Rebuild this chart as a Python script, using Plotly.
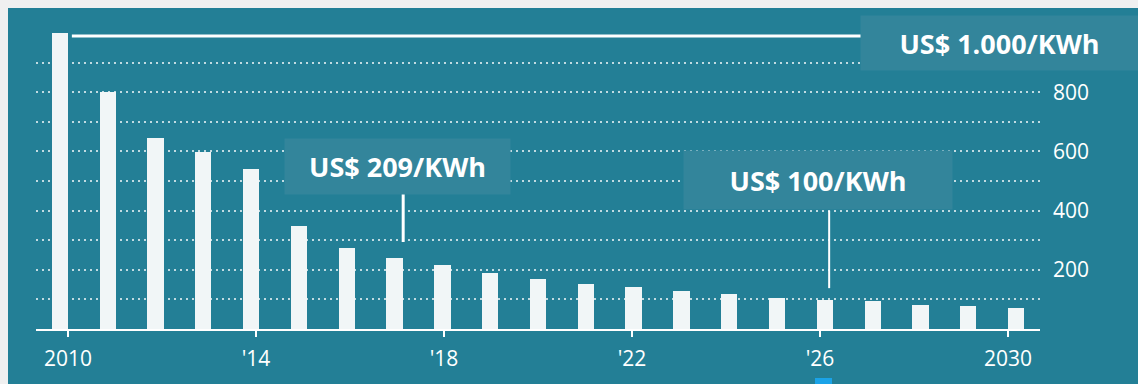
import plotly.graph_objects as go

# ---- data ----
years = list(range(2010, 2031))
prices = [1000, 800, 645, 598, 540, 348, 273, 240, 216, 189, 169, 152, 142, 128, 118, 106, 98, 95, 81, 78, 71]
x_tickvals = [2010, 2014, 2018, 2022, 2026, 2030]
x_ticktext = ["2010", "'14", "'18", "'22", "'26", "2030"]
y_tickvals = [100, 200, 300, 400, 500, 600, 700, 800, 900, 1000]
y_ticktext = ["", "200", "", "400", "", "600", "", "800", "", ""]
labels = ["US$ 1.000/KWh", "US$ 209/KWh", "US$ 100/KWh"]

TEAL = "#237f96"
BOX = "#33859b"
GRAY = "#f0f0f0"
BAR = "#f1f6f7"

W, H = 1138, 384
ML, MR, MT, MB = 36, 98, 33, 55
PW, PH = W - ML - MR, H - MT - MB

fig = go.Figure()
fig.add_trace(go.Bar(x=years, y=prices, width=0.34, marker=dict(color=BAR, line=dict(width=0)),
                     hoverinfo="x+y", showlegend=False))
# empty helper trace so the tick axis (x2) is drawn
fig.add_trace(go.Scatter(x=[None], y=[None], xaxis="x2", yaxis="y", showlegend=False, hoverinfo="skip"))

# pixel -> paper helpers for frame decoration
def px(xp):
    return (xp - ML) / PW

def py(yp):
    return (H - MB - yp) / PH

shapes = [
    # gray strips (top and left) of the cropped frame
    dict(type="rect", xref="paper", yref="paper", x0=px(0), x1=px(W), y0=py(8), y1=py(0),
         fillcolor=GRAY, line=dict(width=0), layer="below"),
    dict(type="rect", xref="paper", yref="paper", x0=px(0), x1=px(8), y0=py(H), y1=py(0),
         fillcolor=GRAY, line=dict(width=0), layer="below"),
    # small blue mark at bottom
    dict(type="rect", xref="paper", yref="paper", x0=px(815), x1=px(832), y0=py(H), y1=py(378),
         fillcolor="#1aa3e8", line=dict(width=0), layer="above"),
    # top reference line (1.000)
    dict(type="line", xref="x", yref="y", x0=2010.25, x1=2026.77, y0=990, y1=990,
         line=dict(color="white", width=3)),
    # pointer lines
    dict(type="line", xref="x", yref="y", x0=2017.18, x1=2017.18, y0=294, y1=500,
         line=dict(color="white", width=3)),
    dict(type="line", xref="x", yref="y", x0=2026.09, x1=2026.09, y0=138, y1=400,
         line=dict(color="white", width=2)),
]

ann_font = dict(family="Open Sans", size=27, color="white", weight="bold")
annotations = [
    dict(x=2029.66, y=966, xref="x", yref="y", text=labels[0], showarrow=False,
         width=277, height=54, bgcolor=BOX, borderpad=0, font=ann_font, xanchor="center", yanchor="middle"),
    dict(x=2017.06, y=550, xref="x", yref="y", text=labels[1], showarrow=False,
         width=225, height=55, bgcolor=BOX, borderpad=0, font=ann_font, xanchor="center", yanchor="middle"),
    dict(x=2025.86, y=505, xref="x", yref="y", text=labels[2], showarrow=False,
         width=268, height=58, bgcolor=BOX, borderpad=0, font=ann_font, xanchor="center", yanchor="middle"),
]

fig.update_layout(
    width=W, height=H,
    margin=dict(l=ML, r=MR, t=MT, b=MB, pad=0),
    paper_bgcolor=TEAL, plot_bgcolor="rgba(0,0,0,0)",
    shapes=shapes, annotations=annotations,
    bargap=0,
    font=dict(family="Open Sans", color="white"),
    xaxis=dict(
        range=[2009.5, 2030.5], showticklabels=False, ticks="",
        showgrid=False, zeroline=False,
        showline=True, linecolor="white", linewidth=2,
    ),
    xaxis2=dict(
        overlaying="x", anchor="y", side="bottom",
        range=[2009.32, 2030.68], tickvals=x_tickvals, ticktext=x_ticktext,
        showgrid=False, zeroline=False, showline=False,
        ticks="outside", ticklen=7, tickwidth=2, tickcolor="white",
        tickfont=dict(family="Open Sans", size=21, color="white"),
        ticklabelstandoff=4,
    ),
    yaxis=dict(
        range=[0, 1000], side="right", tickvals=y_tickvals, ticktext=y_ticktext,
        showgrid=True, gridcolor="rgba(255,255,255,0.72)", gridwidth=2, griddash="2px,4px",
        zeroline=False, showline=False, ticks="",
        tickfont=dict(family="Open Sans", size=21, color="white"),
        ticklabelstandoff=12,
    ),
)

fig.write_html("out.html")
